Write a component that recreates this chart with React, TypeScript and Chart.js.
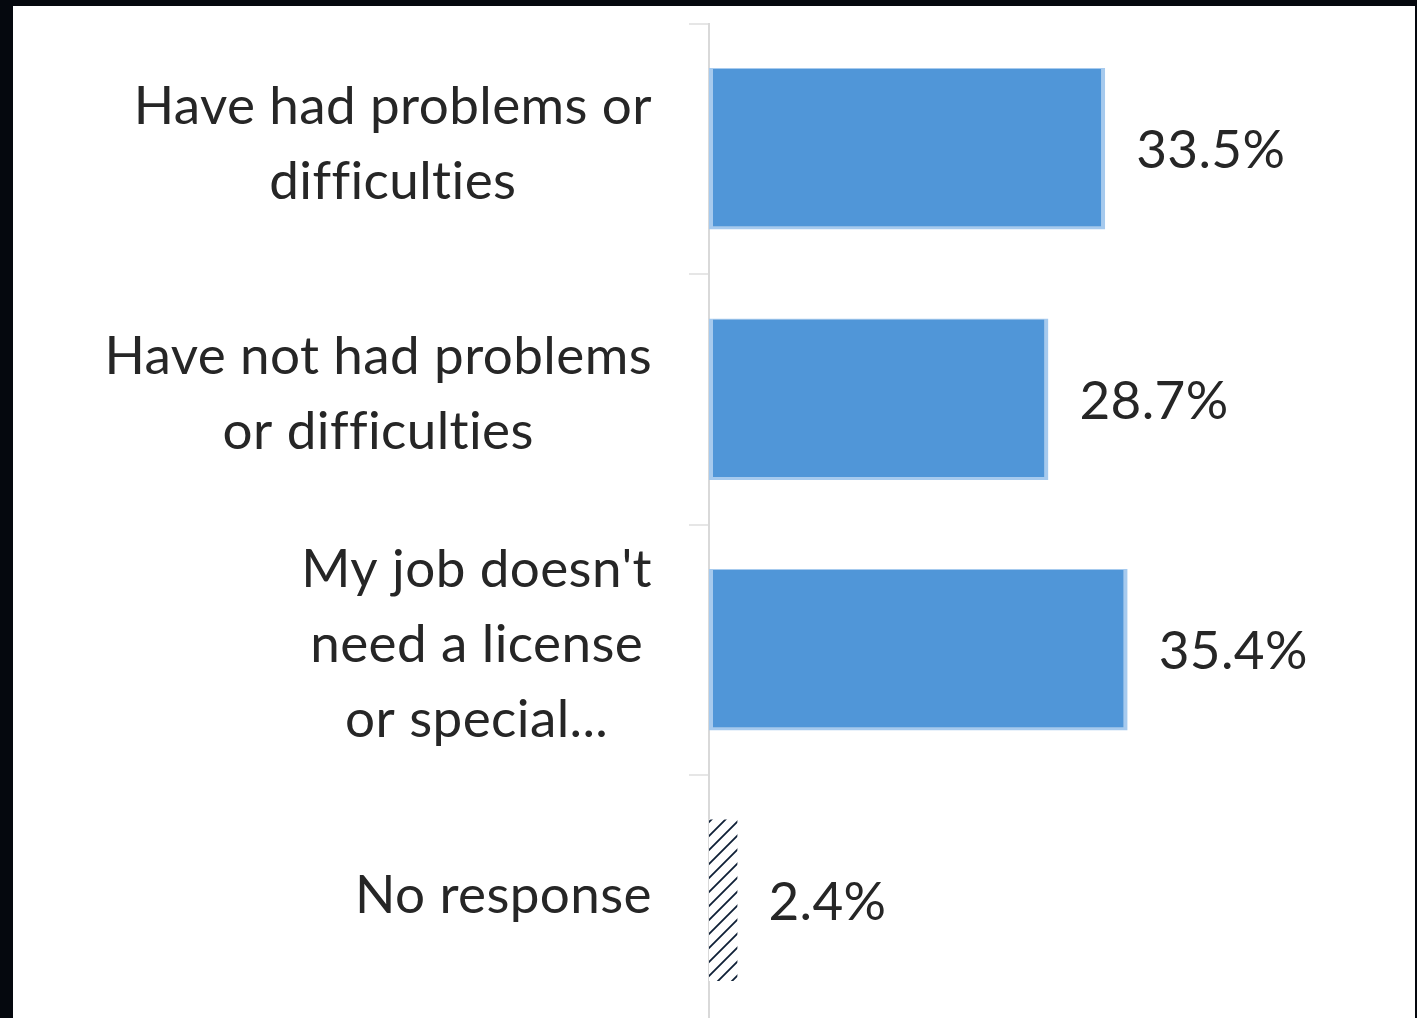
import React, { useEffect, useRef } from 'react';
import { Chart, registerables } from 'chart.js';

Chart.register(...registerables);

// ---- data ----
const categoryLines: string[][] = [
  ['Have had problems or', 'difficulties'],
  ['Have not had problems', 'or difficulties'],
  ["My job doesn't", 'need a license', 'or special...'],
  ['No response'],
];
const values: number[] = [33.5, 28.7, 35.4, 2.4];
const valueLabels: string[] = ['33.5%', '28.7%', '35.4%', '2.4%'];
const X_MAX = 59.7;

// ---- style ----
const FONT = '53px Lato';
const TEXT = '#262626';
const BLUE = '#5096d8';
const BLUE_EDGE = '#a6caee';
const HATCH = '#0e1f36';
const LINE_H = 75;
const CAP_H = 39;

const labelPlugin = {
  id: 'customLabels',
  afterDatasetsDraw(chart: any) {
    const ctx = chart.ctx as CanvasRenderingContext2D;
    const ys = chart.scales.y;
    const xs = chart.scales.x;
    ctx.save();
    ctx.font = FONT;
    try {
      (ctx as any).letterSpacing = '0.4px';
    } catch (e) {
      /* ignore */
    }
    ctx.fillStyle = TEXT;
    ctx.textBaseline = 'alphabetic';
    const rightEdge = xs.left - 57;
    ctx.textAlign = 'center';
    categoryLines.forEach((lines, i) => {
      const c = ys.getPixelForValue(i) - 7;
      const widest = Math.max(...lines.map((l) => ctx.measureText(l).width));
      const cx = rightEdge - widest / 2;
      lines.forEach((l, j) => {
        const my = c + (j - (lines.length - 1) / 2) * LINE_H;
        ctx.fillText(l, cx, my + CAP_H / 2);
      });
    });
    ctx.textAlign = 'left';
    values.forEach((v, i) => {
      const px = xs.getPixelForValue(v) + 31;
      const py = ys.getPixelForValue(i) + CAP_H / 2;
      ctx.fillText(valueLabels[i], px, py);
    });
    ctx.restore();
  },
};

export default function App() {
  const ref = useRef<HTMLCanvasElement | null>(null);

  useEffect(() => {
    const canvas = ref.current;
    if (!canvas) return;
    const pc = document.createElement('canvas');
    pc.width = 14;
    pc.height = 14;
    const p = pc.getContext('2d')!;
    p.fillStyle = '#ffffff';
    p.fillRect(0, 0, 14, 14);
    p.strokeStyle = HATCH;
    p.lineWidth = 1.8;
    p.beginPath();
    p.moveTo(-2, 16);
    p.lineTo(16, -2);
    p.moveTo(-2, 2);
    p.lineTo(2, -2);
    p.moveTo(12, 16);
    p.lineTo(16, 12);
    p.stroke();
    const ctx = canvas.getContext('2d')!;
    const pattern = ctx.createPattern(pc, 'repeat')!;

    const chart = new Chart(canvas, {
      type: 'bar',
      data: {
        labels: categoryLines.map((l) => l.join(' ')),
        datasets: [
          {
            data: values,
            backgroundColor: [BLUE, BLUE, BLUE, pattern as any],
            borderColor: BLUE_EDGE,
            borderWidth: (c: any) =>
              c.dataIndex === 3 ? 0 : ({ top: 1, right: 4, bottom: 3, left: 4 } as any),
            borderSkipped: false,
            barPercentage: 0.645,
            categoryPercentage: 1,
          } as any,
        ],
      },
      options: {
        indexAxis: 'y',
        responsive: false,
        animation: false,
        layout: { padding: { top: 17.5, bottom: 0.5, left: 0, right: 0 } },
        plugins: { legend: { display: false }, tooltip: { enabled: false } },
        scales: {
          x: { display: false, min: 0, max: X_MAX },
          y: {
            grid: {
              drawOnChartArea: false,
              drawTicks: true,
              tickLength: 20,
              color: '#e6e6e6',
              lineWidth: 2,
              offset: true,
            },
            border: { display: true, color: '#d9d9d9', width: 2 },
            ticks: { display: false },
            afterFit: (s: any) => {
              s.width = 696;
            },
          } as any,
        },
      },
      plugins: [labelPlugin],
    });
    return () => chart.destroy();
  }, []);

  return (
    <div
      style={{
        position: 'fixed',
        left: 0,
        top: 0,
        width: '100vw',
        height: '100vh',
        background: '#05080e',
        overflow: 'hidden',
      }}
    >
      <div
        style={{
          position: 'absolute',
          left: 13,
          top: 6,
          width: 1402,
          height: 1100,
          background: '#ffffff',
        }}
      >
        <canvas
          ref={ref}
          width={1402}
          height={1020}
          style={{ display: 'block', width: 1402, height: 1020 }}
        />
      </div>
    </div>
  );
}
